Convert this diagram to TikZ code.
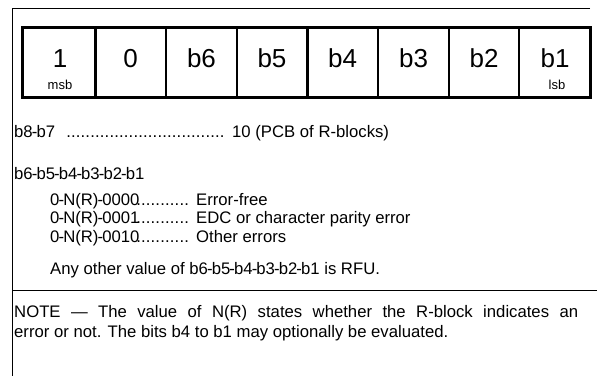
\documentclass[tikz,border=0pt]{standalone}
\usepackage{fontspec}
\setmainfont{Liberation Sans}
\newcommand\dotrow[1]{\hbox to #1{\leaders\hbox to 4.8pt{\hss.\hss}\hfill}}
\newcommand\hy{\kern-0.9pt-\kern-0.9pt}
\begin{document}
\begin{tikzpicture}[x=1pt,y=-1pt,
  txt/.style={anchor=base west, inner sep=0pt, font=\fontsize{16.7}{19}\selectfont},
  bitlbl/.style={anchor=base, inner sep=0pt, font=\fontsize{26}{30}\selectfont},
  sublbl/.style={anchor=base, inner sep=0pt, font=\fontsize{13}{15}\selectfont},
  thickdiv/.style={line width=3pt},
  thindiv/.style={line width=1.5pt},
  framel/.style={line width=1pt}]
\useasboundingbox (0,0) rectangle (597,376);
\fill[white] (0,0) rectangle (597,376);
% frame
\draw[framel] (590,8) -- (12,8) -- (12,376);
\draw[line width=0.8pt] (12,290) -- (597,290);
% bit box
\draw[line width=3pt] (22,27) rectangle (590,97);
\draw[thickdiv] (95,27) -- (95,97);
\draw[thindiv] (166,27) -- (166,97);
\draw[thindiv] (237,27) -- (237,97);
\draw[thickdiv] (307,27) -- (307,97);
\draw[thindiv] (378,27) -- (378,97);
\draw[thindiv] (449,27) -- (449,97);
\draw[thindiv] (519,27) -- (519,97);
\node[bitlbl] (c1) at (60,67) {1};
\node[bitlbl] (c2) at (130.5,67) {0};
\node[bitlbl] (c3) at (201.5,67) {b6};
\node[bitlbl] (c4) at (272,67) {b5};
\node[bitlbl] (c5) at (342.5,67) {b4};
\node[bitlbl] (c6) at (413.5,67) {b3};
\node[bitlbl] (c7) at (484,67) {b2};
\node[bitlbl] (c8) at (555,67) {b1};
\node[sublbl] (msb) at (60,89) {msb};
\node[sublbl] (lsb) at (557,89) {lsb};
% text
\node[txt] (t1) at (14,137) {b8\hy b7};
\node[txt] (t1d) at (66,137) {\dotrow{160pt}};
\node[txt] (t1v) at (232,137) {10 (PCB of R-blocks)};
\node[txt] (t2) at (14,179) {b6\hy b5\hy b4\hy b3\hy b2\hy b1};
\node[txt] (l1) at (50,205) {0\hy N(R)\hy 0000};
\node[txt] (l1d) at (136,205) {\dotrow{56pt}};
\node[txt] (l1v) at (196,205) {Error-free};
\node[txt] (l2) at (50,223) {0\hy N(R)\hy 0001};
\node[txt] (l2d) at (136,223) {\dotrow{56pt}};
\node[txt] (l2v) at (196,223) {EDC or character parity error};
\node[txt] (l3) at (50,242) {0\hy N(R)\hy 0010};
\node[txt] (l3d) at (136,242) {\dotrow{56pt}};
\node[txt] (l3v) at (196,242) {Other errors};
\node[txt] (any) at (50,274) {Any other value of b6\hy b5\hy b4\hy b3\hy b2\hy b1 is RFU.};
\node[txt] (n1) at (14,317) {\makebox[564pt][s]{NOTE --- The value of N(R) states whether the R-block indicates an}};
\node[txt] (n2) at (14,337) {error or not. The bits b4 to b1 may optionally be evaluated.};
\end{tikzpicture}
\end{document}
